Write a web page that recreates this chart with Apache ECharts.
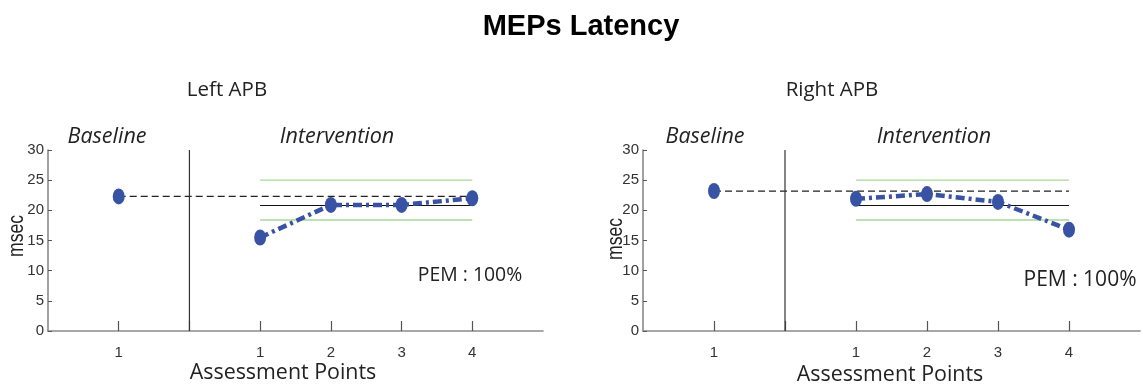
<!DOCTYPE html>
<html>
<head>
<meta charset="utf-8">
<script src="https://cdn.jsdelivr.net/npm/echarts@6/dist/echarts.min.js"></script>
<style>html,body{margin:0;padding:0;background:#fff}#c{width:1143px;height:384px}</style>
</head>
<body>
<div id="c"></div>
<script>
// ---- data ----
var xCategories = ['', '1', '', '1', '2', '3', '4', ''];
var tickIndices = [1, 2, 3, 4, 5, 6];
var baselineIndex = 1;
var phaseLineIndex = 2;
var interventionIndices = [3, 4, 5, 6];
var yTicks = [0, 5, 10, 15, 20, 25, 30];

var leftBaseline = [22.3];
var leftIntervention = [15.5, 20.9, 20.9, 22.0];
var leftBaselineLevel = 22.3;
var leftMedian = 20.8;
var leftUpper = 25.0;
var leftLower = 18.4;

var rightBaseline = [23.2];
var rightIntervention = [21.9, 22.7, 21.4, 16.8];
var rightBaselineLevel = 23.2;
var rightMedian = 20.8;
var rightUpper = 25.0;
var rightLower = 18.4;

// ---- chart ----
var blue = '#3953a4';
var narrow = '"Liberation Sans", Arial, sans-serif';
var sans = '"Open Sans", "Noto Sans", sans-serif';

function hline(gi, y, color, type, width) {
  return {
    type: 'line', xAxisIndex: gi, yAxisIndex: gi, symbol: 'none', silent: true, z: 2,
    data: [[interventionIndices[0], y], [interventionIndices[interventionIndices.length - 1], y]],
    lineStyle: {color: color, width: width, type: type}
  };
}
function panelSeries(gi, base, inter, level, med, up, low) {
  return [
    hline(gi, up, '#a9d79b', 'solid', 1.3),
    hline(gi, low, '#a9d79b', 'solid', 1.3),
    hline(gi, med, '#111', 'solid', 1.1),
    {
      type: 'line', xAxisIndex: gi, yAxisIndex: gi, symbol: 'none', silent: true, z: 2,
      data: [[baselineIndex, level], [interventionIndices[interventionIndices.length - 1], level]],
      lineStyle: {color: '#222', width: 1.2, type: [7, 4]}
    },
    {
      type: 'line', xAxisIndex: gi, yAxisIndex: gi, symbol: 'none', silent: true, z: 2,
      data: [[phaseLineIndex, yTicks[0]], [phaseLineIndex, yTicks[yTicks.length - 1]]],
      lineStyle: {color: '#333', width: 1.2}
    },
    {
      type: 'line', xAxisIndex: gi, yAxisIndex: gi, z: 5,
      data: base.map(function (v) { return [baselineIndex, v]; }),
      symbol: 'circle', symbolSize: [12, 16], itemStyle: {color: blue},
      lineStyle: {color: blue, width: 4.5}
    },
    {
      type: 'line', xAxisIndex: gi, yAxisIndex: gi, z: 5,
      data: inter.map(function (v, i) { return [interventionIndices[i], v]; }),
      symbol: 'circle', symbolSize: [12, 16], itemStyle: {color: blue},
      lineStyle: {color: blue, width: 4.5, type: [9, 4, 3, 4], cap: 'butt'}
    }
  ];
}
function xAx(gi) {
  return {
    type: 'category', gridIndex: gi, data: xCategories, boundaryGap: false,
    axisLine: {lineStyle: {color: '#8a8a8a', width: 1.6}},
    axisTick: {inside: true, length: 10, lineStyle: {color: '#555', width: 1.2},
      interval: function (i) { return tickIndices.indexOf(i) >= 0; }},
    axisLabel: {interval: 0, margin: 14, color: '#333', fontFamily: narrow, fontSize: 15},
    splitLine: {show: false}
  };
}
function yAx(gi) {
  return {
    type: 'value', gridIndex: gi, min: yTicks[0], max: yTicks[yTicks.length - 1], interval: yTicks[1] - yTicks[0],
    axisLine: {show: true, lineStyle: {color: '#8a8a8a', width: 1.6}},
    axisTick: {show: true, inside: true, length: 4, lineStyle: {color: '#555'}},
    axisLabel: {margin: 4, color: '#333', fontFamily: narrow, fontSize: 15},
    splitLine: {show: false}
  };
}
function txt(x, y, s, font, size, extra) {
  var st = {text: s, fontFamily: font, fontSize: size, fill: '#222', textAlign: 'center', textVerticalAlign: 'middle'};
  if (extra) for (var k in extra) st[k] = extra[k];
  return {type: 'text', x: x, y: y, style: st, z: 10};
}
function vtxt(x, y, s) {
  return {type: 'text', x: x, y: y, rotation: Math.PI / 2, scaleX: 0.8, z: 10,
    style: {text: s, fontFamily: narrow, fontSize: 22, fill: '#222', textAlign: 'center', textVerticalAlign: 'middle'}};
}

var chart = echarts.init(document.getElementById('c'), null, {renderer: 'canvas'});
chart.setOption({
  animation: false,
  grid: [
    {left: 48, top: 150, width: 495, height: 181},
    {left: 643, top: 150, width: 497, height: 181}
  ],
  xAxis: [xAx(0), xAx(1)],
  yAxis: [yAx(0), yAx(1)],
  series: panelSeries(0, leftBaseline, leftIntervention, leftBaselineLevel, leftMedian, leftUpper, leftLower)
    .concat(panelSeries(1, rightBaseline, rightIntervention, rightBaselineLevel, rightMedian, rightUpper, rightLower)),
  graphic: [
    txt(581, 27, 'MEPs Latency', '"Liberation Sans", Arial, sans-serif', 29, {fontWeight: 'bold', fill: '#000'}),
    txt(227, 90, 'Left APB', sans, 20.5),
    txt(832, 90, 'Right APB', sans, 20.5),
    txt(107, 137, 'Baseline', sans, 21.5, {fontStyle: 'italic'}),
    txt(337, 137, 'Intervention', sans, 21.5, {fontStyle: 'italic'}),
    txt(705, 137, 'Baseline', sans, 21.5, {fontStyle: 'italic'}),
    txt(934, 137, 'Intervention', sans, 21.5, {fontStyle: 'italic'}),
    txt(470, 275, 'PEM : 100%', sans, 19.4),
    txt(1080, 280, 'PEM : 100%', sans, 21),
    txt(283, 373, 'Assessment Points', sans, 21.4),
    txt(890, 375, 'Assessment Points', sans, 21.4),
    vtxt(17, 236, 'msec'),
    vtxt(616, 239, 'msec')
  ]
});
</script>
</body>
</html>
